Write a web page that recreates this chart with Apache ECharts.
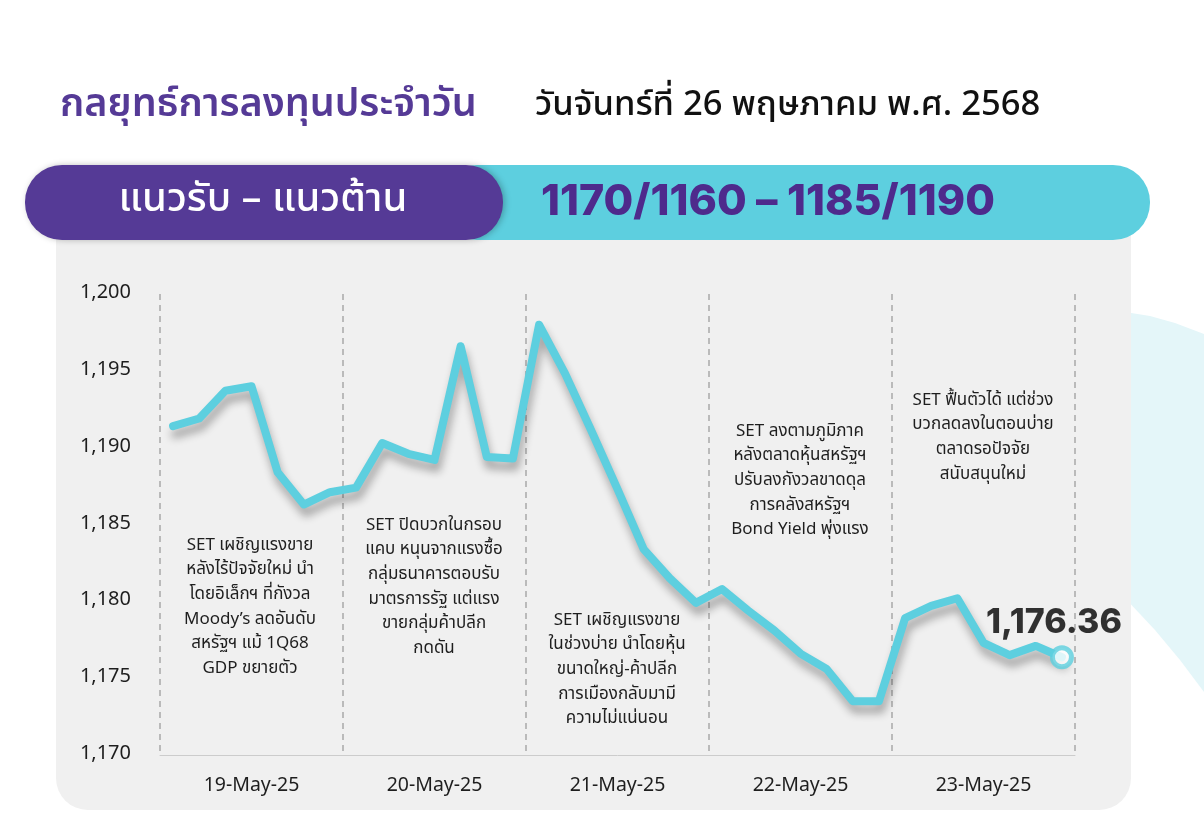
<!DOCTYPE html>
<html>
<head>
<meta charset="utf-8">
<script src="https://cdn.jsdelivr.net/npm/echarts@6/dist/echarts.min.js"></script>
<style>
  html, body { margin: 0; padding: 0; background: #ffffff; }
  #chart { width: 1204px; height: 832px; }
</style>
</head>
<body>
<div id="chart"></div>
<script>
// Trading days shown on the x axis
const days = ['19-May-25', '20-May-25', '21-May-25', '22-May-25', '23-May-25'];
const pointsPerDay = 7;

// SET index, intraday readings (7 per day)
const setIndex = [
  1191.4, 1191.9, 1193.7, 1194.0, 1188.4, 1186.3, 1187.1,
  1187.4, 1190.3, 1189.6, 1189.2, 1196.6, 1189.4, 1189.3,
  1198.0, 1194.8, 1191.1, 1187.3, 1183.4, 1181.5, 1179.9,
  1180.8, 1179.4, 1178.1, 1176.6, 1175.6, 1173.5, 1173.5,
  1178.9, 1179.7, 1180.2, 1177.3, 1176.5, 1177.1, 1176.36
];

// Y axis range
const yMin = 1170, yMax = 1200, yStep = 5;

// Daily market commentary, one block per day
const notes = [
  ['SET เผชิญแรงขาย', 'หลังไร้ปัจจัยใหม่ นำ', 'โดยอิเล็กฯ ที่กังวล', 'Moody’s ลดอันดับ', 'สหรัฐฯ แม้ 1Q68', 'GDP ขยายตัว'],
  ['SET ปิดบวกในกรอบ', 'แคบ หนุนจากแรงซื้อ', 'กลุ่มธนาคารตอบรับ', 'มาตรการรัฐ แต่แรง', 'ขายกลุ่มค้าปลีก', 'กดดัน'],
  ['SET เผชิญแรงขาย', 'ในช่วงบ่าย นำโดยหุ้น', 'ขนาดใหญ่-ค้าปลีก', 'การเมืองกลับมามี', 'ความไม่แน่นอน'],
  ['SET ลงตามภูมิภาค', 'หลังตลาดหุ้นสหรัฐฯ', 'ปรับลงกังวลขาดดุล', 'การคลังสหรัฐฯ', 'Bond Yield พุ่งแรง'],
  ['SET ฟื้นตัวได้ แต่ช่วง', 'บวกลดลงในตอนบ่าย', 'ตลาดรอปัจจัย', 'สนับสนุนใหม่']
];

// Header texts
const titleText = 'กลยุทธ์การลงทุนประจำวัน';
const dateText = 'วันจันทร์ที่ 26 พฤษภาคม พ.ศ. 2568';
const rangeLabel = 'แนวรับ – แนวต้าน';
const rangeValue = '1170/1160 – 1185/1190';

const FONT = '"Noto Sans Thai", "Noto Sans", Inter, sans-serif';
const PURPLE = '#553a96';
const CYAN = '#5dcfdf';
const TEXT = '#1e1e1e';

const categories = setIndex.map((_, i) => days[Math.floor(i / pointsPerDay)] + '|' + (i % pointsPerDay));
const lastIdx = setIndex.length - 1;
const lastVal = setIndex[lastIdx];
const fmt = (v, d) => v.toLocaleString('en-US', { minimumFractionDigits: d, maximumFractionDigits: d });

// Commentary placement: centre x of each day column, top y of first line
const noteBoxes = [
  { x: 250, y: 534 }, { x: 434, y: 514 }, { x: 617, y: 609 }, { x: 800, y: 420 }, { x: 983, y: 389 }
];
const noteGraphics = notes.map((lines, i) => ({
  type: 'text',
  x: noteBoxes[i].x,
  y: noteBoxes[i].y,
  z: 5,
  style: {
    text: lines.join('\n'),
    fill: TEXT,
    font: '400 17px ' + FONT,
    lineHeight: 24.6,
    align: 'center',
    verticalAlign: 'top'
  }
}));

const chart = echarts.init(document.getElementById('chart'), null, { renderer: 'canvas' });
chart.setOption({
  animation: false,
  backgroundColor: '#ffffff',
  grid: { left: 160, right: 129, top: 294, bottom: 77, containLabel: false },
  graphic: [
    // soft decorative wave on the right
    {
      type: 'polygon', z: -10, silent: true,
      shape: { points: [[1125, 312], [1150, 316], [1175, 323], [1204, 334], [1204, 692], [1180, 660], [1155, 630], [1125, 598]] },
      style: { fill: '#e4f6f9' }
    },
    // grey chart panel
    {
      type: 'rect', z: -5, silent: true,
      shape: { x: 56, y: 205, width: 1075, height: 605, r: [0, 0, 32, 32] },
      style: { fill: '#f0f0f0' }
    },
    // header pills
    {
      type: 'rect', z: -2, silent: true,
      shape: { x: 440, y: 165, width: 710, height: 75, r: 37 },
      style: { fill: CYAN }
    },
    {
      type: 'rect', z: -1, silent: true,
      shape: { x: 25, y: 165, width: 478, height: 75, r: 37 },
      style: { fill: PURPLE, shadowColor: 'rgba(0,0,0,0.25)', shadowBlur: 6, shadowOffsetX: 2 }
    },
    {
      type: 'text', x: 263, y: 203, z: 2,
      style: { text: rangeLabel, fill: '#ffffff', font: '500 40px ' + FONT, align: 'center', verticalAlign: 'middle' }
    },
    {
      type: 'text', x: 541, y: 202, z: 2,
      style: { text: rangeValue, fill: '#4e2a8c', font: '800 43px Inter, ' + FONT, align: 'left', verticalAlign: 'middle' }
    },
    // title row
    {
      type: 'text', x: 60, y: 108, z: 2,
      style: { text: titleText, fill: PURPLE, font: '600 39.5px ' + FONT, align: 'left', verticalAlign: 'middle' }
    },
    {
      type: 'text', x: 535, y: 108, z: 2,
      style: { text: dateText, fill: '#111111', font: '500 34.6px ' + FONT, align: 'left', verticalAlign: 'middle' }
    },
    ...noteGraphics
  ],
  xAxis: [
    {
      type: 'category',
      data: categories,
      boundaryGap: true,
      axisLine: { show: true, lineStyle: { color: '#cccccc', width: 1 } },
      axisTick: { show: false },
      splitLine: { show: false },
      axisLabel: {
        interval: (i) => i % pointsPerDay === Math.floor(pointsPerDay / 2),
        formatter: (v) => v.split('|')[0],
        color: TEXT,
        fontFamily: FONT,
        fontSize: 19.5,
        margin: 22
      }
    },
    {
      // day separators
      type: 'value',
      position: 'bottom',
      min: 0,
      max: setIndex.length,
      interval: pointsPerDay,
      axisLine: { show: false },
      axisTick: { show: false },
      axisLabel: { show: false },
      splitLine: { show: true, lineStyle: { color: '#a8a8a8', type: [6, 5], width: 1.5 } }
    }
  ],
  yAxis: {
    type: 'value',
    min: yMin,
    max: yMax,
    interval: yStep,
    axisLine: { show: false },
    axisTick: { show: false },
    splitLine: { show: false },
    axisLabel: {
      formatter: (v) => fmt(v, 0),
      color: TEXT,
      fontFamily: FONT,
      fontSize: 20,
      margin: 29
    }
  },
  series: [
    {
      type: 'line',
      data: setIndex,
      xAxisIndex: 0,
      symbol: 'none',
      z: 3,
      lineStyle: {
        color: CYAN,
        width: 8,
        join: 'round',
        cap: 'round',
        shadowColor: 'rgba(0,0,0,0.32)',
        shadowBlur: 9,
        shadowOffsetX: 2,
        shadowOffsetY: 8
      }
    },
    {
      type: 'scatter',
      xAxisIndex: 0,
      z: 4,
      data: [[lastIdx, lastVal]],
      symbol: 'circle',
      symbolSize: 19,
      itemStyle: { color: '#ffffff', borderColor: CYAN, borderWidth: 5 },
      label: {
        show: true,
        position: 'top',
        distance: 5,
        offset: [-8, 0],
        formatter: () => fmt(lastVal, 2),
        color: '#000000',
        fontFamily: 'Inter, ' + FONT,
        fontWeight: 800,
        fontSize: 34
      }
    }
  ]
});
</script>
</body>
</html>
